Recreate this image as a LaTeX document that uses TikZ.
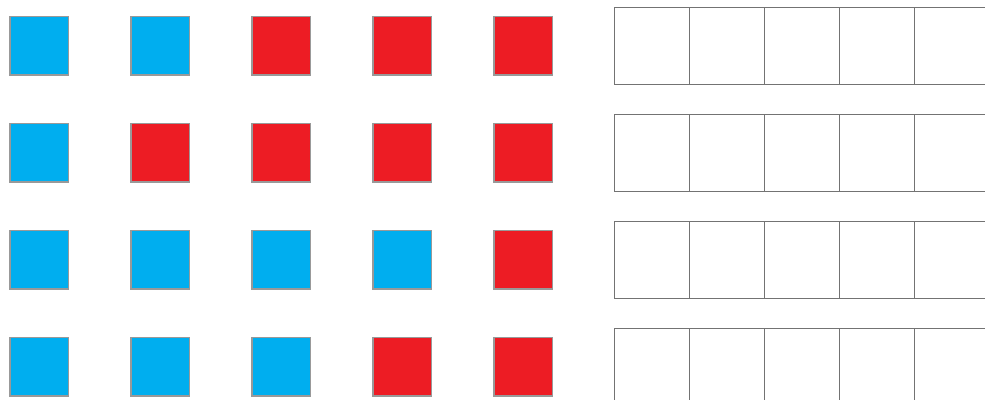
\documentclass[tikz,border=0pt]{standalone}
\usepackage{xcolor}
\definecolor{sqblue}{HTML}{00AEEF}
\definecolor{sqred}{HTML}{ED1C24}

\begin{document}
\begin{tikzpicture}[
    x=1pt, y=-1pt,
    tile/.style={
        rectangle,
        draw=black!40,
        line width=1.5pt,
        minimum size=58.5pt,
        inner sep=0pt
    },
    cell/.style={
        rectangle,
        draw=black!55,
        line width=1pt,
        minimum width=75pt,
        minimum height=77pt,
        inner sep=0pt
    }
]

\clip (0,0) rectangle (985,399);

% coloured tiles, one row per list
\foreach \cols [count=\r] in {{sqblue,sqblue,sqred,sqred,sqred},
                             {sqblue,sqred,sqred,sqred,sqred},
                             {sqblue,sqblue,sqblue,sqblue,sqred},
                             {sqblue,sqblue,sqblue,sqred,sqred}}
  \foreach \col [count=\c] in \cols
    \node (tile-\r-\c) [tile, fill=\col] at ({39+121*(\c-1)}, {45.5+107*(\r-1)}) {};

% empty answer strips
\foreach \r in {1,...,4}
  \foreach \c in {1,...,5}
    \node (cell-\r-\c) [cell] at ({651.5+75*(\c-1)}, {45.5+107*(\r-1)}) {};

\end{tikzpicture}
\end{document}
